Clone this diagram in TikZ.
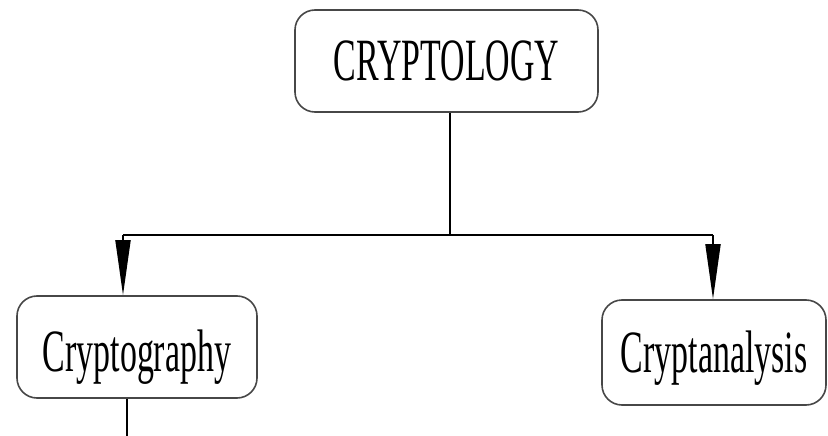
\documentclass[tikz,border=0pt]{standalone}
\usepackage{fontspec}
\setmainfont{Liberation Serif}
\usetikzlibrary{arrows.meta}
\tikzset{
  box/.style={draw=black!72, line width=1.6pt, rounded corners=20pt, fill=white,
    inner sep=0pt, text depth=0pt, text height=40pt, font=\fontsize{60}{60}\selectfont},
  conn/.style={line width=1.8pt, draw=black},
  arr/.style={conn, -{Triangle[length=55pt,width=15pt]}}
}
\newcommand{\squeeze}[1]{\scalebox{0.565}[1]{#1}}
\begin{document}
\begin{tikzpicture}[x=1pt,y=-1pt]
\useasboundingbox (0,0) rectangle (828,436);
\node[box, minimum width=303pt, minimum height=102pt] (top) at (446.5,61) {\squeeze{CRYPTOLOGY}};
\node[box, minimum width=240pt, minimum height=102pt, text height=48pt] (left) at (137,347) {\squeeze{Cryptography}};
\node[box, minimum width=224pt, minimum height=105pt] (right) at (714,352.5) {\squeeze{Cryptanalysis}};
\coordinate (jl) at (123,235);
\coordinate (jr) at (713,235);
\coordinate (bot) at (127,436);
\draw[conn] ([xshift=3.5pt]top.south) -- ([xshift=3.5pt]top.south |- jl);
\draw[conn] (jl) -- (jr);
\draw[arr] (jl) -- (jl |- left.north);
\draw[arr] (jr) -- (jr |- right.north);
\draw[conn] (bot |- left.south) -- (bot);
\end{tikzpicture}
\end{document}
